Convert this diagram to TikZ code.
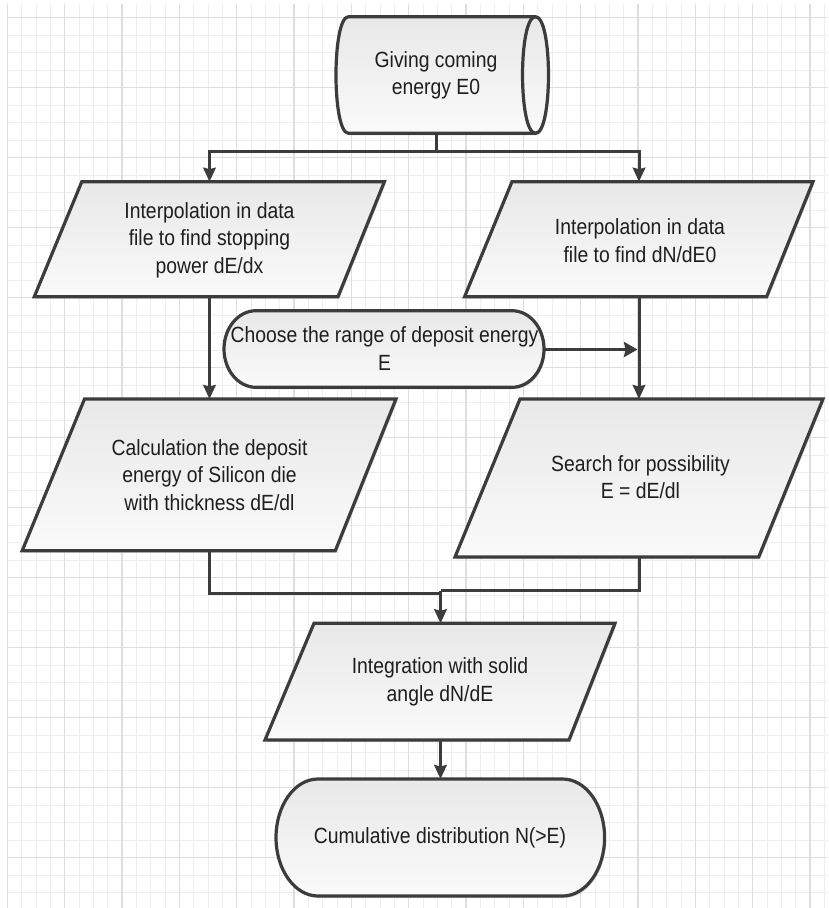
\documentclass[tikz,border=0pt]{standalone}
\usepackage{fontspec}
\setmainfont{Liberation Sans}[FakeStretch=0.88]
\usetikzlibrary{arrows.meta}
\definecolor{edge}{HTML}{3C3C3C}
\definecolor{gmin}{HTML}{EEEEEE}
\definecolor{gmaj}{HTML}{DEDEDE}
\definecolor{txt}{HTML}{1E1E1E}
\begin{document}
\begin{tikzpicture}[x=1pt,y=-1pt,
  shp/.style={draw=edge, line width=3.2pt, line join=miter, top color=black!9, bottom color=black!2,
    preaction={fill=black!14, transform canvas={shift={(1.5pt,-2pt)}}}},
  lbl/.style={align=center, inner sep=0pt, text=txt, font=\fontsize{22}{27.5}\selectfont},
  conn/.style={draw=edge, line width=3pt},
  arr/.style={conn, -{Stealth[length=14pt,width=12.5pt,inset=1.5pt]}},
  arrh/.style={conn, -{Stealth[length=13.5pt,width=15pt,inset=1.5pt]}},
  minorline/.style={draw=gmin, line width=1pt},
  majorline/.style={draw=gmaj, line width=1.2pt}]
\fill[white] (0,0) rectangle (828,908);
\useasboundingbox (0,0) rectangle (828,908);
% grid
\foreach \k in {0,...,57}{\pgfmathsetmacro\gx{7.4+14.333*\k}\draw[minorline] (\gx,4) -- (\gx,908);}
\foreach \k in {1,...,51}{\pgfmathsetmacro\gy{17.5*\k}\draw[minorline] (7.4,\gy) -- (828,\gy);}
\foreach \k in {0,4,...,56}{\pgfmathsetmacro\gx{7.4+14.333*\k}\draw[majorline] (\gx,4) -- (\gx,908);}
\foreach \k in {1,5,...,49}{\pgfmathsetmacro\gy{17.5*\k}\draw[majorline] (7.4,\gy) -- (828,\gy);}

% shapes
\path[shp] (348.5,16.7) -- (535.5,16.7) .. controls (552.8,16.7) and (552.8,133.3) .. (535.5,133.3) -- (348.5,133.3) .. controls (331.8,133.3) and (331.8,16.7) .. cycle;
\draw[draw=edge, line width=3.2pt] (535.5,16.7) .. controls (518.2,16.7) and (518.2,133.3) .. (535.5,133.3);
\path[shp] (81.8,181.7) -- (384.4,181.7) -- (338,296.7) -- (34.3,296.7) -- cycle;
\path[shp] (512,181.7) -- (813,181.7) -- (766.6,296.7) -- (464.6,296.7) -- cycle;
\path[shp] (256,310.7) -- (512,310.7) .. controls (529.7,310.7) and (544,327.85) .. (544,349) .. controls (544,370.15) and (529.7,387.3) .. (512,387.3) -- (256,387.3) .. controls (238.3,387.3) and (224,370.15) .. (224,349) .. controls (224,327.85) and (238.3,310.7) .. cycle;
\path[shp] (84.5,399) -- (396,399) -- (335.3,550.7) -- (22.2,550.7) -- cycle;
\path[shp] (520,399) -- (823,399) -- (758.7,557) -- (455,557) -- cycle;
\path[shp] (314,623.3) -- (615,623.3) -- (569,740) -- (265,740) -- cycle;
\path[shp] (318,779) -- (562.6,779) .. controls (585.8,779) and (604.6,805.2) .. (604.6,837.5) .. controls (604.6,869.8) and (585.8,896) .. (562.6,896) -- (318,896) .. controls (294.8,896) and (276,869.8) .. (276,837.5) .. controls (276,805.2) and (294.8,779) .. cycle;

% labels
\node[lbl] (cyl) at (436,75.5) {Giving coming\\energy E0};
\node[lbl] (p1) at (209.5,240) {Interpolation in data\\file to find stopping\\power dE/dx};
\node[lbl] (p2) at (640,240.5) {Interpolation in data\\file to find dN/dE0};
\node[lbl] (s1) at (384.5,348.5) {Choose the range of deposit energy\\E};
\node[lbl] (p3) at (209.5,474.7) {Calculation the deposit\\energy of Silicon die\\with thickness dE/dl};
\node[lbl] (p4) at (640.5,477) {Search for possibility\\E = dE/dl};
\node[lbl] (p5) at (440,681.7) {Integration with solid\\angle dN/dE};
\node[lbl] (s2) at (440,837.5) {Cumulative distribution N(>E)};

% anchor coordinates
\coordinate (cylB) at (436,133.3);
\coordinate (split) at (436,151.7);
\coordinate (p1T) at (209.5,181.7);
\coordinate (p1B) at (209.5,296.7);
\coordinate (p2T) at (639,181.7);
\coordinate (p2B) at (639,296.7);
\coordinate (p3T) at (209.5,399);
\coordinate (p3B) at (209.5,550.7);
\coordinate (p4T) at (639,399);
\coordinate (p4B) at (639,557);
\coordinate (s1R) at (544,349.5);
\coordinate (hit) at (637.5,349.5);
\coordinate (p5T) at (440.5,623.3);
\coordinate (p5B) at (440.5,740);
\coordinate (s2T) at (440.5,779);
\coordinate (mergeL) at (440.5,593.3);
\coordinate (mergeR) at (440.5,590.5);

% connectors
\draw[conn] (cylB) -- (split);
\draw[arr] (split) -| (p1T);
\draw[arr] (split) -| (p2T);
\draw[arr] (p1B) -- (p3T);
\draw[arr] (p2B) -- (p4T);
\draw[arrh] (s1R) -- (hit);
\draw[conn] (p3B) |- (mergeL);
\draw[conn] (p4B) |- (mergeR);
\draw[arr] (mergeR) -- (p5T);
\draw[arr] (p5B) -- (s2T);
\end{tikzpicture}
\end{document}
